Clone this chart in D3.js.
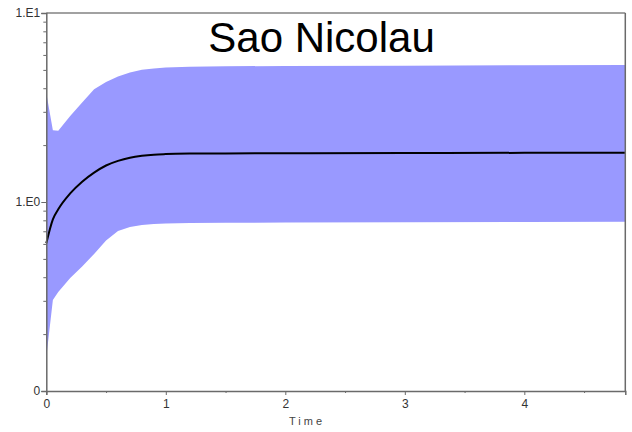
<!DOCTYPE html>
<html>
<head>
<meta charset="utf-8">
<script src="https://cdn.jsdelivr.net/npm/d3@7"></script>
<style>
  html, body { margin: 0; padding: 0; background: #ffffff; }
  svg { display: block; }
  .axis text { font-family: "Liberation Sans", Arial, sans-serif; font-size: 12px; fill: #333; }
  .axis path, .axis line { stroke: #6a6a6a; }
</style>
</head>
<body>
<svg id="chart" width="632" height="432"></svg>
<script>
// Skyline reconstruction: median and 95% HPD band over time
const title = "Sao Nicolau";
const xLabel = "Time";
const times  = [0, 0.055, 0.1, 0.2, 0.3, 0.4, 0.5, 0.6, 0.7, 0.8, 0.9, 1.0, 1.2, 1.5, 2, 3, 4, 4.845];
const upper  = [3.77, 2.40, 2.38, 2.85, 3.36, 3.95, 4.31, 4.61, 4.84, 5.01, 5.08, 5.15, 5.20, 5.23, 5.24, 5.26, 5.29, 5.31];
const median = [0.605, 0.81, 0.915, 1.11, 1.28, 1.43, 1.56, 1.65, 1.715, 1.755, 1.78, 1.792, 1.803, 1.808, 1.81, 1.815, 1.82, 1.823];
const lower  = [0.151, 0.303, 0.334, 0.396, 0.456, 0.531, 0.625, 0.703, 0.738, 0.756, 0.765, 0.769, 0.774, 0.776, 0.778, 0.781, 0.784, 0.787];
const xTicks = [0, 1, 2, 3, 4];
const xMinorTicks = [0.5, 1.5, 2.5, 3.5, 4.5];
const yTicks = [0.1, 1, 10];
const yTickLabels = ["0", "1.E0", "1.E1"];
const yMinorTicks = [0.2, 0.3, 0.4, 0.5, 0.6, 0.7, 0.8, 0.9, 2, 3, 4, 5, 6, 7, 8, 9];

const svg = d3.select("#chart");
const plotLeft = 46.3, plotRight = 625.3, plotTop = 13, plotBottom = 391;

const x = d3.scaleLinear().domain([0, 4.845]).range([plotLeft, plotRight]);
const y = d3.scaleLog().domain([0.1, 10]).range([plotBottom, plotTop]);

const rows = times.map((t, i) => ({ t, lo: lower[i], md: median[i], hi: upper[i] }));

// HPD band
svg.append("path")
  .datum(rows)
  .attr("fill", "#9999ff")
  .attr("d", d3.area().x(d => x(d.t)).y0(d => y(d.lo)).y1(d => y(d.hi)));

// median line
svg.append("path")
  .datum(rows)
  .attr("fill", "none")
  .attr("stroke", "#000")
  .attr("stroke-width", 2)
  .attr("d", d3.line().x(d => x(d.t)).y(d => y(d.md)).curve(d3.curveMonotoneX));

// frame: top and right edges
svg.append("line").attr("x1", plotLeft).attr("x2", plotRight).attr("y1", plotTop).attr("y2", plotTop)
  .attr("stroke", "#444").attr("stroke-width", 1.2);
svg.append("line").attr("x1", plotRight).attr("x2", plotRight).attr("y1", plotTop).attr("y2", plotBottom)
  .attr("stroke", "#6a6a6a").attr("stroke-width", 1.5);

// x axis
const gx = svg.append("g").attr("class", "axis").attr("transform", `translate(0,${plotBottom})`);
gx.call(d3.axisBottom(x).tickValues(xTicks).tickFormat(d3.format("d")).tickSize(4).tickPadding(4));
svg.append("g").attr("class", "axis").attr("transform", `translate(0,${plotBottom})`)
  .call(d3.axisBottom(x).tickValues(xMinorTicks).tickFormat("").tickSize(2))
  .select(".domain").remove();
gx.select(".domain").attr("stroke-width", 1.5);

// y axis
const gy = svg.append("g").attr("class", "axis").attr("transform", `translate(${plotLeft},0)`);
gy.call(d3.axisLeft(y).tickValues(yTicks).tickFormat((d, i) => yTickLabels[i]).tickSize(5).tickPadding(1));
svg.append("g").attr("class", "axis").attr("transform", `translate(${plotLeft},0)`)
  .call(d3.axisLeft(y).tickValues(yMinorTicks).tickFormat("").tickSize(3))
  .select(".domain").remove();
gy.select(".domain").attr("stroke-width", 1.5);

// axis title
svg.append("text")
  .attr("x", 307).attr("y", 425)
  .attr("text-anchor", "middle")
  .attr("font-family", "Liberation Sans, Arial, sans-serif")
  .attr("font-size", 11)
  .attr("letter-spacing", 3)
  .attr("fill", "#444")
  .text(xLabel);

// chart title
svg.append("text")
  .attr("x", 321.5).attr("y", 52)
  .attr("text-anchor", "middle")
  .attr("font-family", "Liberation Sans, Arial, sans-serif")
  .attr("font-size", 42)
  .attr("fill", "#000")
  .text(title);
</script>
</body>
</html>
